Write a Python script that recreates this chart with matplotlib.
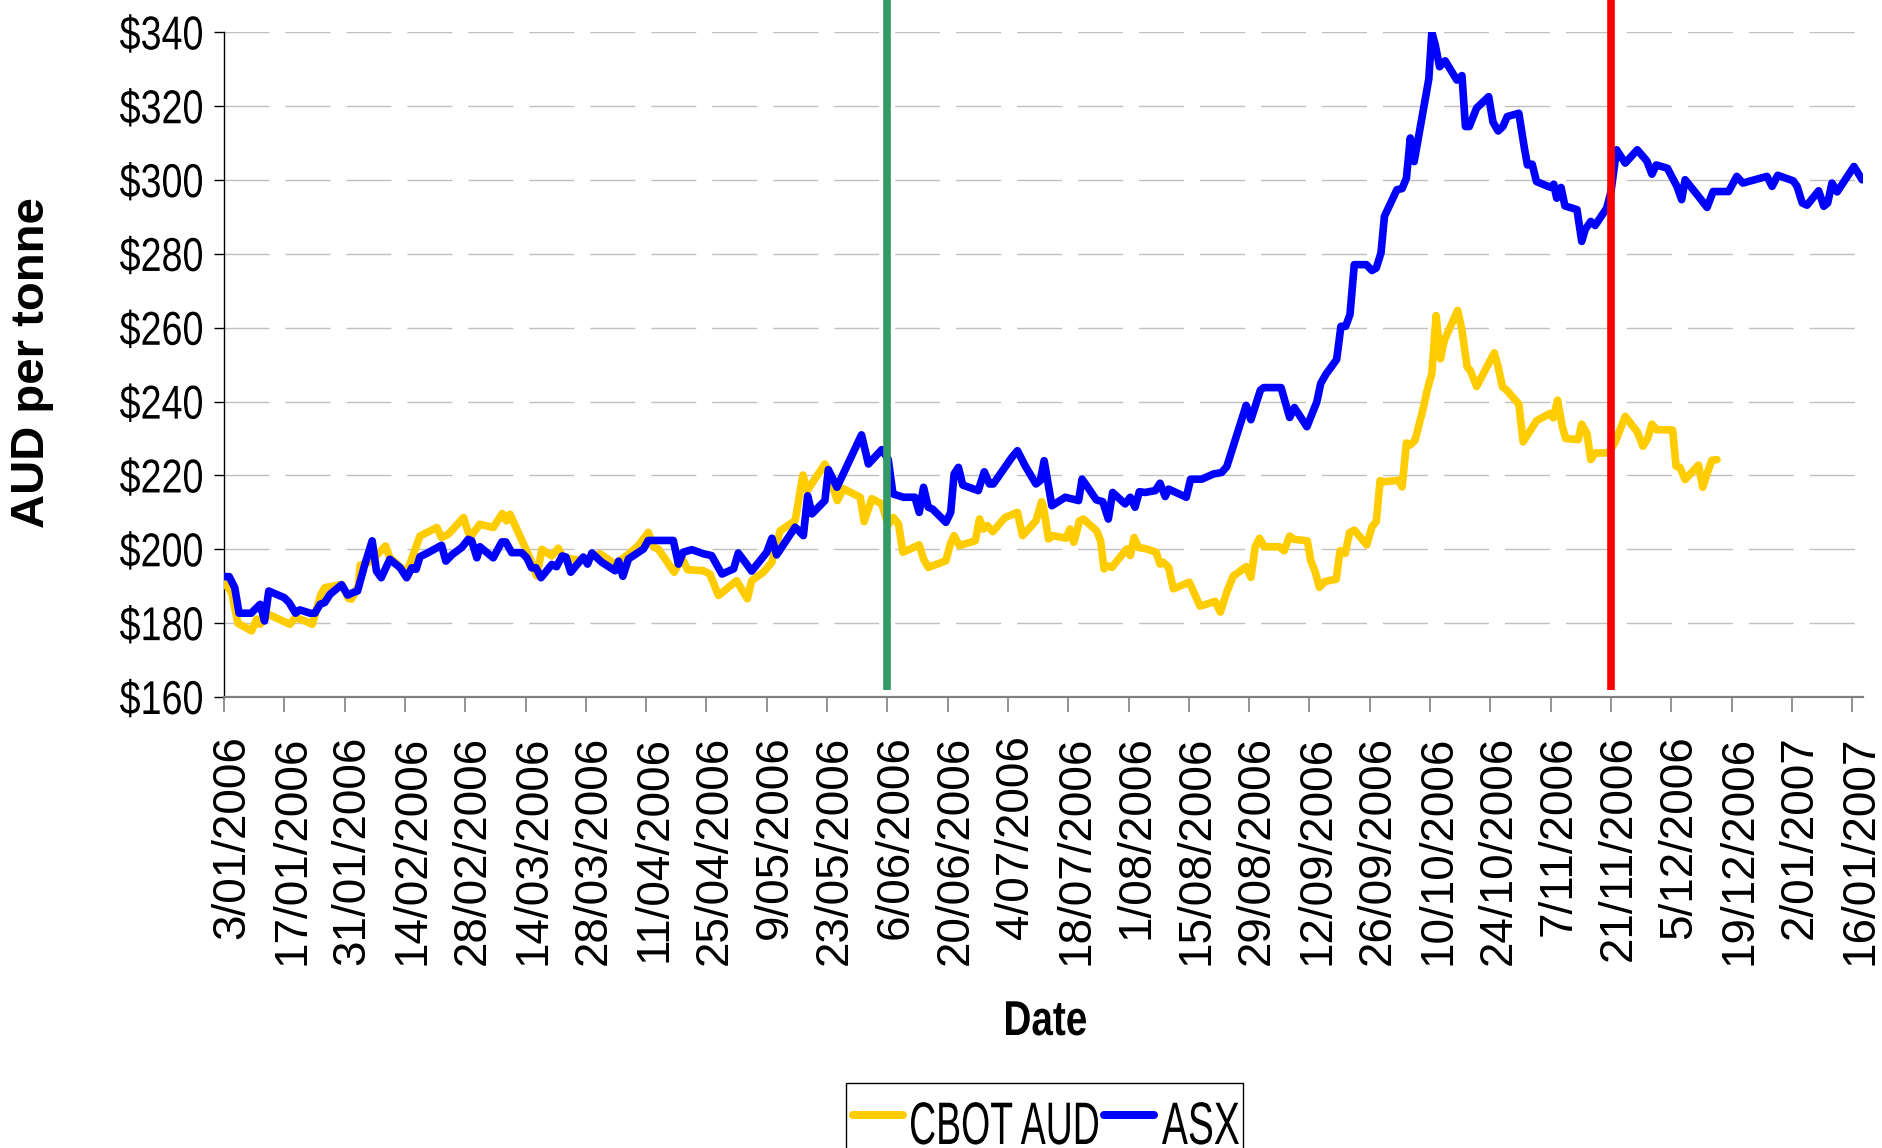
import datetime as dt
import matplotlib
matplotlib.use("Agg")
import matplotlib.pyplot as plt
import matplotlib.transforms as mtransforms
from matplotlib.textpath import TextPath
from matplotlib.patches import PathPatch, Rectangle
from matplotlib.lines import Line2D
from matplotlib.font_manager import FontProperties

# ---------------- data (days since 3 Jan 2006, AUD per tonne) ----------------
base_date = dt.datetime(2006, 1, 3)

asx_day = [0.2, 1.2, 2.5, 3.5, 6.3, 8.4, 9.4, 10.4, 14.0, 15.1, 16.6, 17.6, 20.0, 21.1,
           22.3, 23.4, 24.6, 27.3, 28.7, 30.0, 31.0, 32.6, 34.4, 35.4, 36.5, 38.5, 40.9,
           42.4, 43.6, 44.6, 45.5, 47.4, 50.5, 51.5, 53.0, 55.2, 56.7, 57.5, 58.7, 59.4,
           62.5, 64.5, 65.4, 66.8, 69.1, 70.3, 71.4, 72.4, 73.6, 76.1, 77.2, 78.5, 79.4,
           80.5, 83.4, 84.4, 85.4, 87.7, 90.8, 91.6, 92.6, 93.9, 97.4, 98.5, 104.3, 105.5,
           106.6, 108.6, 111.3, 113.2, 115.6, 118.3, 119.4, 121.0, 122.5, 126.0, 127.2,
           128.3, 132.6, 134.5, 135.5, 136.5, 139.5, 140.3, 142.3, 148.0, 149.6, 152.7,
           154.2, 155.3, 157.7, 160.4, 161.4, 162.4, 163.5, 164.5, 167.6, 168.7, 169.5,
           170.5, 171.5, 175.1, 176.5, 177.7, 178.6, 182.9, 184.2, 186.0, 188.5, 189.5,
           190.4, 192.2, 195.3, 198.4, 199.2, 200.3, 202.5, 204.0, 205.3, 206.3, 209.2,
           210.4, 211.5, 212.5, 213.8, 216.2, 217.3, 218.5, 219.3, 223.4, 224.4, 227.0,
           229.7, 231.6, 232.8, 237.3, 238.4, 240.6, 241.4, 245.4, 247.4, 248.5, 251.4,
           253.7, 254.6, 255.8, 258.3, 259.3, 260.4, 261.4, 262.4, 265.2, 266.5, 267.5,
           268.6, 269.4, 272.3, 273.5, 274.5, 275.4, 276.3, 279.7, 280.4, 281.2, 282.2,
           283.5, 286.2, 287.4, 288.2, 289.1, 290.8, 293.6, 294.6, 295.8, 296.9, 297.9,
           300.6, 301.9, 302.6, 303.7, 304.7, 308.0, 308.7, 309.4, 310.4, 311.3, 314.1,
           315.2, 316.0, 317.3, 318.3, 321.0, 322.0, 323.3, 325.3, 328.1, 330.3, 331.5,
           332.5, 335.1, 337.3, 338.4, 339.2, 342.3, 344.3, 345.7, 349.3, 351.2, 352.6,
           358.2, 359.4, 360.7, 364.3, 365.2, 366.4, 367.5, 370.2, 371.4, 372.3, 373.3,
           374.5, 378.4, 380.3]
asx_val = [192.6, 192.6, 189.6, 182.7, 182.7, 185.1, 180.6, 188.7, 186.9, 185.6, 182.7,
           183.6, 182.7, 182.7, 185.1, 185.6, 187.8, 190.4, 187.6, 188.3, 188.7, 195.5,
           202.3, 194.1, 192.3, 197.3, 195.0, 192.3, 195.0, 194.6, 198.0, 199.1, 201.1,
           196.8, 198.6, 200.5, 202.7, 202.3, 197.7, 200.7, 197.7, 202.0, 202.0, 199.1,
           199.1, 197.7, 195.0, 195.0, 192.3, 195.9, 195.3, 198.2, 197.9, 193.8, 197.9,
           196.0, 199.0, 196.5, 194.2, 196.8, 192.7, 197.4, 200.1, 202.4, 202.4, 196.0,
           199.2, 199.9, 198.8, 198.3, 193.3, 194.7, 199.0, 196.5, 194.1, 199.2, 203.0,
           198.5, 206.0, 203.7, 214.5, 209.6, 213.2, 221.6, 216.8, 231.0, 223.1, 227.0,
           224.4, 215.0, 214.1, 214.1, 210.0, 216.8, 211.4, 210.9, 207.3, 210.0, 220.4,
           222.2, 217.4, 215.9, 221.0, 217.7, 217.7, 224.9, 226.7, 222.6, 217.7, 218.6,
           224.0, 211.8, 214.1, 213.2, 219.0, 217.2, 213.4, 212.9, 208.2, 215.4, 212.3,
           214.1, 211.4, 215.6, 215.4, 215.9, 217.9, 214.3, 216.3, 214.1, 219.0, 219.0,
           220.4, 220.8, 222.4, 239.0, 235.1, 243.1, 243.8, 243.8, 235.7, 238.4, 233.2,
           239.9, 244.9, 247.4, 251.4, 260.4, 260.4, 263.6, 277.1, 277.1, 275.5, 276.2,
           280.3, 290.2, 297.4, 297.7, 300.5, 311.4, 305.0, 327.4, 340.0, 336.6, 330.7,
           332.3, 327.1, 328.3, 314.5, 314.5, 319.5, 322.6, 315.7, 313.3, 314.5, 317.2,
           318.1, 308.6, 304.1, 304.3, 299.6, 298.0, 298.9, 295.1, 298.0, 293.0, 292.0,
           283.4, 286.6, 288.8, 287.7, 292.4, 296.9, 308.2, 304.6, 308.2, 305.2, 301.6,
           304.1, 303.2, 298.3, 294.7, 300.1, 295.6, 292.6, 296.9, 296.9, 301.0, 299.2,
           301.0, 298.3, 301.3, 299.8, 298.3, 293.8, 293.2, 297.1, 292.9, 293.8, 299.2,
           296.8, 303.7, 300.1]

cbot_day = [0.2, 1.8, 3.2, 6.4, 7.6, 8.4, 10.3, 15.3, 16.5, 18.8, 20.5, 22.5, 23.4, 27.3,
            28.9, 29.6, 31.2, 31.6, 33.9, 37.5, 38.5, 42.4, 45.5, 49.4, 50.5, 52.1, 55.6,
            57.1, 59.4, 62.5, 64.6, 65.6, 66.4, 71.0, 72.6, 73.8, 76.1, 77.6, 78.8, 83.0,
            87.3, 90.8, 93.5, 96.2, 98.5, 99.7, 100.8, 104.5, 105.5, 106.6, 107.6, 111.3,
            112.8, 114.8, 119.0, 121.5, 122.5, 125.2, 127.2, 129.1, 132.6, 134.4, 135.4,
            139.5, 142.4, 143.8, 147.7, 148.6, 150.4, 152.7, 154.2, 155.4, 156.6, 157.6,
            161.4, 162.4, 163.5, 167.6, 168.6, 169.5, 170.7, 174.4, 175.4, 176.3, 177.2,
            178.5, 181.3, 184.2, 185.4, 188.5, 189.8, 190.2, 191.4, 192.4, 195.5, 196.4,
            197.3, 198.6, 199.5, 202.6, 203.5, 204.3, 204.9, 206.1, 209.6, 210.4, 211.3,
            212.3, 214.2, 216.4, 217.3, 218.0, 219.3, 220.4, 224.1, 226.6, 230.1, 231.3,
            232.8, 234.3, 235.0, 237.3, 238.4, 239.4, 240.4, 241.5, 245.0, 246.1, 247.4,
            248.4, 251.5, 252.3, 253.3, 254.3, 255.6, 258.2, 259.1, 260.3, 261.3, 262.4,
            265.3, 266.5, 267.5, 268.4, 269.3, 272.7, 273.5, 274.5, 275.3, 276.5, 278.5,
            279.4, 280.4, 281.4, 282.4, 283.3, 286.4, 287.4, 288.6, 289.3, 290.8, 294.9,
            295.8, 296.8, 297.8, 300.6, 301.6, 304.7, 307.8, 308.6, 309.6, 310.7, 311.5,
            314.4, 315.2, 316.4, 317.3, 318.3, 321.4, 323.0, 325.3, 328.1, 329.4, 330.5,
            331.5, 332.6, 336.3, 337.1, 338.0, 339.2, 342.3, 343.3, 344.3, 345.4, 346.6]
cbot_val = [190.8, 188.3, 180.0, 177.9, 181.1, 179.7, 182.4, 179.7, 181.5, 180.6, 179.7,
            187.8, 189.6, 190.5, 186.7, 186.5, 190.1, 195.7, 196.6, 200.9, 197.7, 193.7,
            203.6, 205.9, 203.2, 204.1, 208.6, 203.2, 206.8, 205.9, 209.7, 207.7, 209.5,
            197.7, 192.8, 200.0, 198.2, 200.3, 197.7, 197.0, 198.8, 196.0, 198.3, 201.0,
            204.6, 200.6, 200.1, 193.8, 196.0, 197.0, 194.5, 194.2, 193.3, 187.5, 191.5,
            186.6, 191.5, 193.8, 196.5, 205.0, 207.8, 220.1, 215.9, 223.1, 213.2, 216.4,
            214.1, 207.5, 213.7, 212.3, 206.6, 208.6, 206.8, 199.2, 201.2, 197.4, 195.1,
            196.9, 201.4, 203.7, 201.0, 202.3, 208.2, 205.5, 206.4, 204.8, 208.6, 210.0,
            203.7, 207.7, 212.9, 211.8, 202.8, 203.7, 203.0, 205.5, 201.9, 207.7, 208.2,
            205.0, 202.3, 194.7, 195.6, 195.1, 200.1, 198.3, 203.2, 200.5, 200.1, 199.2,
            196.0, 196.5, 195.1, 189.3, 191.1, 184.6, 185.9, 183.0, 188.4, 192.8, 193.3,
            195.3, 192.4, 200.7, 203.0, 200.7, 200.7, 199.6, 203.6, 202.7, 202.3, 196.9,
            194.0, 189.7, 191.3, 191.9, 199.6, 198.9, 204.5, 205.2, 201.2, 206.1, 207.5,
            218.6, 218.3, 218.7, 216.9, 228.8, 228.2, 229.5, 238.6, 243.5, 247.6, 263.3,
            251.6, 256.6, 264.7, 259.3, 249.4, 248.5, 244.1, 253.2, 249.4, 244.0, 243.1,
            239.3, 229.1, 234.8, 236.8, 235.6, 240.4, 233.2, 230.0, 229.7, 233.9, 231.4,
            224.3, 226.1, 226.1, 229.1, 236.0, 231.8, 227.9, 230.0, 233.9, 232.4, 232.3,
            222.5, 222.2, 218.9, 222.8, 216.8, 220.5, 224.1, 224.3]

marker_days = [154, 322]            # 6/06/2006 and 21/11/2006
marker_colors = ["#339966", "#FF0000"]

series_names = ["CBOT AUD", "ASX"]
series_colors = ["#FFCC00", "#0000FF"]

y_ticks = list(range(160, 341, 20))
tick_step_days = 14
n_ticks = 28
x_max_day = 380.5

plt.rcParams["lines.scale_dashes"] = False
FONT = "Liberation Sans"
W, H = 1882, 1148


def to_dates(days):
    return [base_date + dt.timedelta(days=d) for d in days]


fig = plt.figure(figsize=(W / 100, H / 100), dpi=100)
ax = fig.add_axes([224 / W, 1 - 697 / H, (1863 - 224) / W, (697 - 32.4) / H])


def condensed_text(s, x, y, size, width=None, sx=1.0, weight="normal", ha="left",
                   color="black"):
    """Draw horizontally condensed text; x, y in display pixels, y = baseline."""
    prop = FontProperties(family=FONT, weight=weight)
    tp = TextPath((0, 0), s, size=size, prop=prop)
    ext = tp.get_extents()
    if width is not None:
        sx = width / ext.width
    w = ext.width * sx
    if ha == "left":
        x0 = x - ext.x0 * sx
    elif ha == "right":
        x0 = x - w - ext.x0 * sx
    else:
        x0 = x - w / 2 - ext.x0 * sx
    tr = mtransforms.Affine2D().scale(sx, 1).translate(x0, y)
    patch = PathPatch(tp, transform=tr, facecolor=color, edgecolor="none", lw=0)
    fig.add_artist(patch)
    return patch


# grid
for v in y_ticks[1:]:
    ax.axhline(v, color="#C0C0C0", lw=1.0, linestyle=(0, (32.4, 11.5)), zorder=1)

l1, = ax.plot(to_dates(cbot_day), cbot_val, color=series_colors[0], lw=5.5,
              solid_joinstyle="round", solid_capstyle="round", zorder=3)
l2, = ax.plot(to_dates(asx_day), asx_val, color=series_colors[1], lw=5.5,
              solid_joinstyle="round", solid_capstyle="round", zorder=4)

for d, c in zip(marker_days, marker_colors):
    xd = base_date + dt.timedelta(days=d)
    ax.plot([xd, xd], [161.9, 349.5], color=c, lw=5.5, clip_on=False, zorder=5,
            solid_capstyle="butt")

ax.set_ylim(160, 340)
ax.set_xlim(base_date, base_date + dt.timedelta(days=x_max_day))

tick_dates = [base_date + dt.timedelta(days=tick_step_days * k) for k in range(n_ticks)]
tick_labels = [f"{t.day}/{t.month:02d}/{t.year}" for t in tick_dates]
ax.set_xticks(tick_dates)
ax.set_xticklabels(tick_labels, rotation=90, fontsize=33, family=FONT)
ax.set_yticks(y_ticks)
ax.set_yticklabels([])

ax.tick_params(axis="x", direction="out", length=10.8, width=1.2, color="#808080", pad=17)
ax.tick_params(axis="y", direction="out", length=7.2, width=1.0, color="black")
offset = mtransforms.ScaledTranslation(8 / 100, 0, fig.dpi_scale_trans)
for lab in ax.get_xticklabels():
    lab.set_transform(lab.get_transform() + offset)

for s in ["top", "right"]:
    ax.spines[s].set_visible(False)
ax.spines["left"].set_color("black")
ax.spines["left"].set_linewidth(1.0)
ax.spines["bottom"].set_color("#808080")
ax.spines["bottom"].set_linewidth(1.6)

# y tick labels (condensed, like the original)
ytick_size = 47.5
cap = 0.716 * ytick_size
ref_w = TextPath((0, 0), "$160", size=ytick_size,
                 prop=FontProperties(family=FONT)).get_extents().width
ysx = 82.0 / ref_w
for v in y_ticks:
    yd = ax.transData.transform((ax.get_xlim()[0], v))[1]
    condensed_text(f"${v}", 202, yd - cap / 2, ytick_size, sx=ysx, ha="right")

# axis titles
fig.text(32 / W, 1 - 363 / H, "AUD per tonne", rotation=90, ha="center", va="center",
         fontsize=34, fontweight="bold", family=FONT)
condensed_text("Date", 1046, H - 1035, 49, width=80, weight="bold", ha="center")

# legend (box runs off the bottom edge as in the original)
fig.add_artist(Rectangle((846, -20), 1243 - 846, (H - 1083) + 20,
                         transform=mtransforms.IdentityTransform(),
                         facecolor="white", edgecolor="black", lw=1.0, zorder=10))
leg_items = [(series_names[0], series_colors[0], 853, 903, 911, 187),
             (series_names[1], series_colors[1], 1104, 1154, 1162, 77)]
for name, col, lx0, lx1, tx, tw in leg_items:
    ln = Line2D([lx0, lx1], [H - 1115, H - 1115], color=col, lw=5.8,
                solid_capstyle="round", transform=mtransforms.IdentityTransform(),
                zorder=11)
    fig.add_artist(ln)
    p = condensed_text(name, tx, H - 1144, 60, width=tw, ha="left")
    p.set_zorder(11)

fig.savefig("out.png", dpi=100)
